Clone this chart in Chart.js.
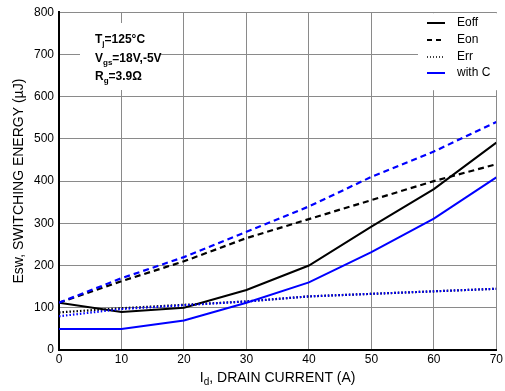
<!DOCTYPE html>
<html>
<head>
<meta charset="UTF-8">
<title>Switching energy vs drain current</title>
<script src="https://cdn.jsdelivr.net/npm/chart.js"></script>
<style>
  html, body { margin: 0; padding: 0; background: #fff; }
  #wrap { width: 505px; height: 391px; position: relative; }
</style>
</head>
<body>
<div id="wrap"><canvas id="chart"></canvas></div>
<script>
// drain current (A)
const currents = [0, 10, 20, 30, 40, 50, 60, 70];
// switching energy (uJ), plain
const eoff = [112, 90, 100, 142, 200, 292, 381, 491];
const eon  = [112, 163, 210, 265, 310, 355, 400, 440];
const err  = [89, 99, 107, 115, 127, 133, 139, 145];
// with C
const eoffC = [50, 50, 70, 112, 160, 232, 311, 409];
const eonC  = [112, 170, 220, 280, 340, 410, 470, 540];
const errC  = [80, 97, 106, 115, 127, 133, 139, 145];

const yTicks = [0, 100, 200, 300, 400, 500, 600, 700, 800];
const legendNames = ['Eoff', 'Eon', 'Err', 'with C'];

const FONT = 'Liberation Sans, Arial, sans-serif';

function pts(ys) {
  return currents.map((x, i) => ({ x: x, y: ys[i] }));
}

const dotted = [1.5, 2];
const dashed = [6, 4];

// draws the legend box, the conditions note and the x title
const extras = {
  id: 'extras',
  afterDraw(chart) {
    const ctx = chart.ctx;
    const area = chart.chartArea;
    ctx.save();

    // conditions note
    ctx.fillStyle = '#fff';
    ctx.fillRect(80, 23, 80, 67);
    ctx.fillStyle = '#000';
    ctx.textBaseline = 'alphabetic';
    ctx.textAlign = 'left';
    const rows = [['T', 'j', '=125°C', 43], ['V', 'gs', '=18V,-5V', 62], ['R', 'g', '=3.9Ω', 80]];
    rows.forEach(r => {
      let x = 95;
      ctx.font = 'bold 12px ' + FONT;
      ctx.fillText(r[0], x, r[3]);
      x += ctx.measureText(r[0]).width;
      ctx.font = 'bold 8px ' + FONT;
      ctx.fillText(r[1], x, r[3] + 3);
      x += ctx.measureText(r[1]).width;
      ctx.font = 'bold 12px ' + FONT;
      ctx.fillText(r[2], x, r[3]);
    });

    // legend
    ctx.fillStyle = '#fff';
    ctx.fillRect(418, area.top + 1, 80, 77);
    const styles = [
      { c: '#000', d: [] },
      { c: '#000', d: [5, 4] },
      { c: '#000', d: [1, 2] },
      { c: '#0000ff', d: [] }
    ];
    const ys = [23, 40, 57, 73];
    ctx.font = '12px ' + FONT;
    ctx.textBaseline = 'middle';
    legendNames.forEach((name, i) => {
      ctx.strokeStyle = styles[i].c;
      ctx.lineWidth = i === 2 ? 1.5 : 2;
      ctx.setLineDash(styles[i].d);
      ctx.beginPath();
      ctx.moveTo(427, ys[i]);
      ctx.lineTo(445, ys[i]);
      ctx.stroke();
      ctx.fillStyle = '#000';
      ctx.fillText(name, 457, ys[i]);
    });
    ctx.setLineDash([]);

    // x axis title with subscript
    const cx = (area.left + area.right) / 2;
    const baseY = 382;
    ctx.textBaseline = 'alphabetic';
    ctx.font = '14px ' + FONT;
    const a = 'I', sub = 'd', b = ', DRAIN CURRENT (A)';
    const wa = ctx.measureText(a).width;
    const wb = ctx.measureText(b).width;
    ctx.font = '10px ' + FONT;
    const ws = ctx.measureText(sub).width;
    let x = cx - (wa + ws + wb) / 2;
    ctx.fillStyle = '#000';
    ctx.font = '14px ' + FONT;
    ctx.fillText(a, x, baseY);
    x += wa;
    ctx.font = '10px ' + FONT;
    ctx.fillText(sub, x, baseY + 3);
    x += ws;
    ctx.font = '14px ' + FONT;
    ctx.fillText(b, x, baseY);

    ctx.restore();
  }
};

new Chart(document.getElementById('chart'), {
  type: 'line',
  data: {
    datasets: [
      { label: 'with C', data: pts(eoffC), borderColor: '#0000ff', borderWidth: 2 },
      { label: 'Eon with C', data: pts(eonC), borderColor: '#0000ff', borderWidth: 2.2, borderDash: dashed },
      { label: 'Err with C', data: pts(errC), borderColor: '#0000ff', borderWidth: 2.2, borderDash: dotted },
      { label: 'Eoff', data: pts(eoff), borderColor: '#000', borderWidth: 2 },
      { label: 'Eon', data: pts(eon), borderColor: '#000', borderWidth: 2.2, borderDash: dashed },
      { label: 'Err', data: pts(err), borderColor: '#000', borderWidth: 2.2, borderDash: dotted }
    ].map(d => Object.assign(d, { pointRadius: 0, fill: false, tension: 0 }))
  },
  options: {
    responsive: true,
    maintainAspectRatio: false,
    animation: false,
    layout: { padding: { top: 8, right: 5, left: 0, bottom: 0 } },
    plugins: {
      legend: { display: false },
      tooltip: { enabled: false }
    },
    scales: {
      x: {
        type: 'linear',
        min: 0,
        max: 70,
        ticks: { stepSize: 10, color: '#000', font: { family: FONT, size: 12 }, padding: 2, maxRotation: 0 },
        grid: { color: '#8a8a8a', lineWidth: 1, drawTicks: false },
        border: { color: '#000', width: 2 },
        afterFit(s) { s.height = 41; }
      },
      y: {
        min: 0,
        max: 800,
        afterBuildTicks(s) { s.ticks = yTicks.map(v => ({ value: v })); },
        ticks: { color: '#000', font: { family: FONT, size: 12 }, padding: 5 },
        grid: { color: '#8a8a8a', lineWidth: 1, drawTicks: false },
        border: { color: '#000', width: 2 },
        title: {
          display: true,
          text: 'Esw, SWITCHING ENERGY (µJ)',
          color: '#000',
          font: { family: FONT, size: 14 },
          padding: { top: 11, bottom: 0 }
        },
        afterFit(s) { s.width = 59; }
      }
    }
  },
  plugins: [extras]
});
</script>
</body>
</html>
